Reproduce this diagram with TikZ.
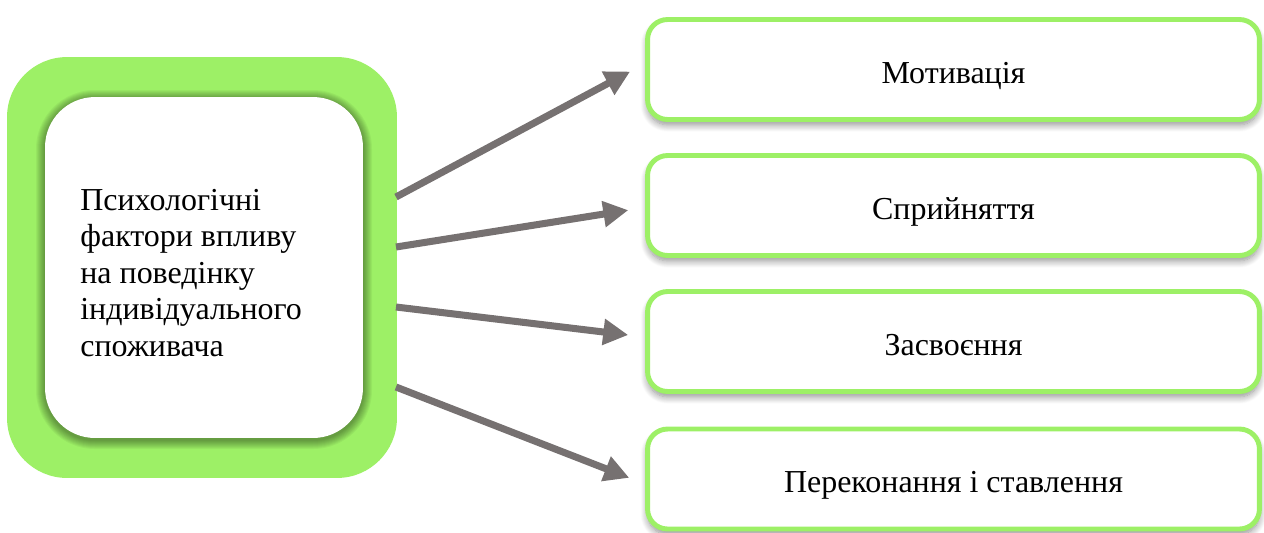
\documentclass[tikz,border=0pt]{standalone}
\usepackage{fontspec}
\setmainfont{Liberation Serif}
\usetikzlibrary{arrows.meta, shadows.blur}
\definecolor{leafgreen}{RGB}{157,240,102}
\definecolor{arrowgray}{RGB}{118,113,113}

\begin{document}
\begin{tikzpicture}[x=0.02cm, y=-0.02cm,
  factor/.style={draw=leafgreen, line width=2.8pt, fill=white, rounded corners=0.4cm,
    minimum width=12.24cm, minimum height=2cm, font=\fontsize{18.2}{22}\selectfont,
    text height=18pt, text depth=2.2pt,
    blur shadow={shadow xshift=0pt, shadow yshift=-3pt, shadow blur radius=4pt,
    shadow blur steps=10, shadow opacity=45}},
  link/.style={draw=arrowgray, line width=4pt, shorten >=0.34cm,
    -{Triangle[length=0.5cm, width=0.5cm]}}]
  \useasboundingbox (0,0) rectangle (1264,532);
  % ліва рамка з підписом
  \node[fill=leafgreen, rounded corners=1.2cm, minimum width=7.8cm,
    minimum height=8.42cm, inner sep=0pt] (outer) at (202,267.5) {};
  \foreach \i in {1,...,9}
    \fill[black, opacity=0.045, rounded corners={(50+\i)*0.02cm}]
      (45-\i,99-\i) rectangle (363+\i,440+\i);
  \node[fill=white, rounded corners=1cm, minimum width=6.36cm, minimum height=6.82cm,
    inner sep=0pt] (inner) at (204,267.5) {};
  \node[align=left, anchor=west, inner sep=0pt,
    font=\fontsize{18.2}{20.8}\selectfont] (title) at (80,273)
    {Психологічні\\фактори впливу\\на поведінку\\індивідуального\\споживача};
  \node[factor] (motiv) at (953.5,69.5) {Мотивація};
  \node[factor] (percep) at (953.5,205.5) {Сприйняття};
  \node[factor] (learn) at (953.5,341.5) {Засвоєння};
  \node[factor] (belief) at (953.5,479) {Переконання і ставлення};
  \coordinate (s1) at (396,197);
  \coordinate (s2) at (396,247);
  \coordinate (s3) at (396,307);
  \coordinate (s4) at (396,387);
  \draw[link] (s1) -- ([yshift=0.12cm]motiv.west);
  \draw[link] (s2) -- ([yshift=-0.04cm]percep.west);
  \draw[link] (s3) -- ([yshift=0.09cm]learn.west);
  \draw[link] (s4) -- ([yshift=-0.1cm]belief.west);
\end{tikzpicture}
\end{document}
